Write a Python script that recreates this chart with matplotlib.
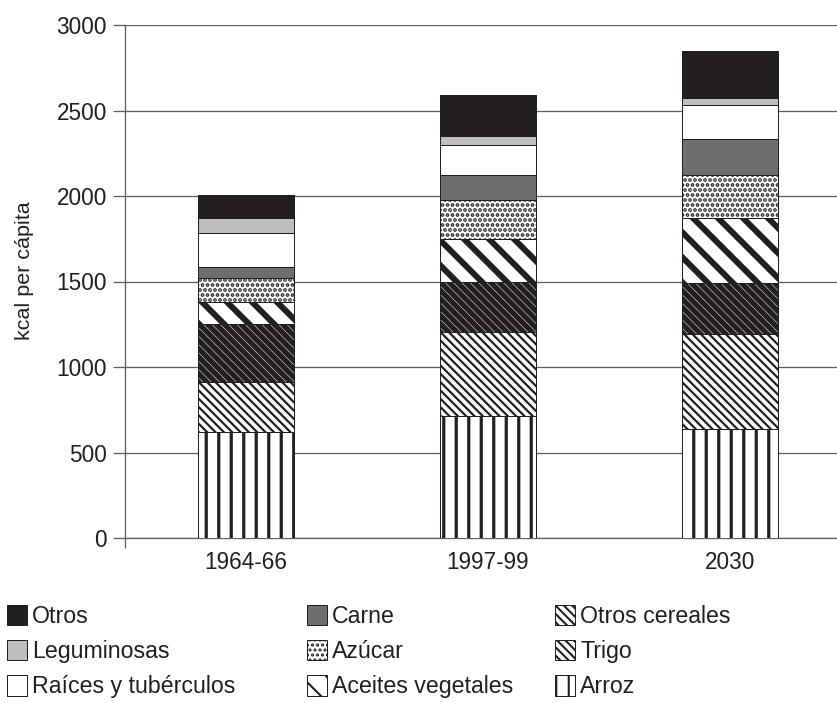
import numpy as np
import matplotlib; matplotlib.use("Agg")
import matplotlib.pyplot as plt

plt.rcParams["font.family"] = ["Liberation Sans", "DejaVu Sans"]

# --- Data (kcal per cápita, stacked bottom -> top) ---
periods = ["1964-66", "1997-99", "2030"]
arroz = [620, 712, 640]
trigo = [292, 493, 551]
otros_cereales = [342, 292, 300]
aceites = [126, 254, 380]
azucar = [143, 224, 250]
carne = [62, 150, 212]
raices = [201, 175, 197]
leguminosas = [85, 49, 45]
otros = [133, 240, 271]

DPI = 150
PX = 72 / DPI  # points per pixel
INK = "#231f20"

# name, values, facecolor, hatch, hatch linewidth (px)
# (diagonal hatches come out twice as sparse as vertical ones, hence the doubled counts)
layers = [
    ("Arroz", arroz, "white", "||", 3.2),
    ("Trigo", trigo, "white", "\\" * 6, 2.2),
    ("Otros cereales", otros_cereales, "white", "\\" * 6, 5.4),
    ("Aceites vegetales", aceites, "white", "\\" * 2, 6.0),
    ("Azúcar", azucar, "white", ".....", 2.6),
    ("Carne", carne, "#6d6e70", None, 1.0),
    ("Raíces y tubérculos", raices, "white", None, 1.0),
    ("Leguminosas", leguminosas, "#bcbec0", None, 1.0),
    ("Otros", otros, INK, None, 1.0),
]

fig = plt.figure(figsize=(837 / DPI, 703 / DPI), dpi=DPI)
ax = fig.add_axes([125 / 837, 165 / 703, 726 / 837, 513 / 703])

x = np.arange(len(periods))
bottom = np.zeros(len(periods))
handles = {}
for name, vals, fc, hatch, hlw in layers:
    vals = np.array(vals, dtype=float)
    with plt.rc_context({"hatch.linewidth": hlw * PX, "hatch.color": INK}):
        bars = ax.bar(x, vals, width=0.4, bottom=bottom, color=fc, edgecolor=INK,
                      linewidth=1.0 * PX, hatch=hatch, zorder=3, label=name)
        for b in bars:
            if hasattr(b, "set_hatch_linewidth"):
                b.set_hatch_linewidth(hlw * PX)
    handles[name] = bars[0]
    bottom += vals

# --- Axes styling ---
ax.set_xlim(-0.5, 2.5)
ax.set_ylim(0, 3000)
ax.set_yticks(np.arange(0, 3001, 500))
ax.set_xticks(x)
ax.set_xticklabels(periods)
ax.set_xticks([-0.5], minor=True)
ax.yaxis.grid(True, color="#5e5f61", linewidth=1.3 * PX, zorder=0)
for s in ["top", "right"]:
    ax.spines[s].set_visible(False)
for s in ["left", "bottom"]:
    ax.spines[s].set_color("#5e5f61")
    ax.spines[s].set_linewidth(1.3 * PX)

fs = 22.5 * PX
ax.tick_params(axis="y", direction="out", length=12 * PX, width=1.3 * PX,
               color="#5e5f61", labelsize=fs, labelcolor=INK, pad=6 * PX)
ax.tick_params(axis="x", which="major", length=0, labelsize=fs, labelcolor=INK, pad=13 * PX)
ax.tick_params(axis="x", which="minor", direction="out", length=10 * PX,
               width=1.3 * PX, color="#5e5f61")

ax.set_ylabel("kcal per cápita", fontsize=21.5 * PX, color=INK)
ax.yaxis.set_label_coords((24 - 125) / 726, (538 - 271) / 513)
ax.yaxis.label.set_verticalalignment("center")

# --- Legend: three columns placed by hand ---
columns = [
    (7, ["Otros", "Leguminosas", "Raíces y tubérculos"]),
    (307, ["Carne", "Azúcar", "Aceites vegetales"]),
    (555, ["Otros cereales", "Trigo", "Arroz"]),
]
for xpx, names in columns:
    fig.legend([handles[n] for n in names], names, loc="upper left",
               bbox_to_anchor=(xpx / 837, (703 - 605) / 703), frameon=False,
               fontsize=23.2 * PX, handlelength=0.86, handleheight=0.97,
               handletextpad=0.22, labelspacing=0.52, borderpad=0,
               borderaxespad=0, labelcolor=INK)

fig.savefig("out.png", dpi=DPI, facecolor="white")
